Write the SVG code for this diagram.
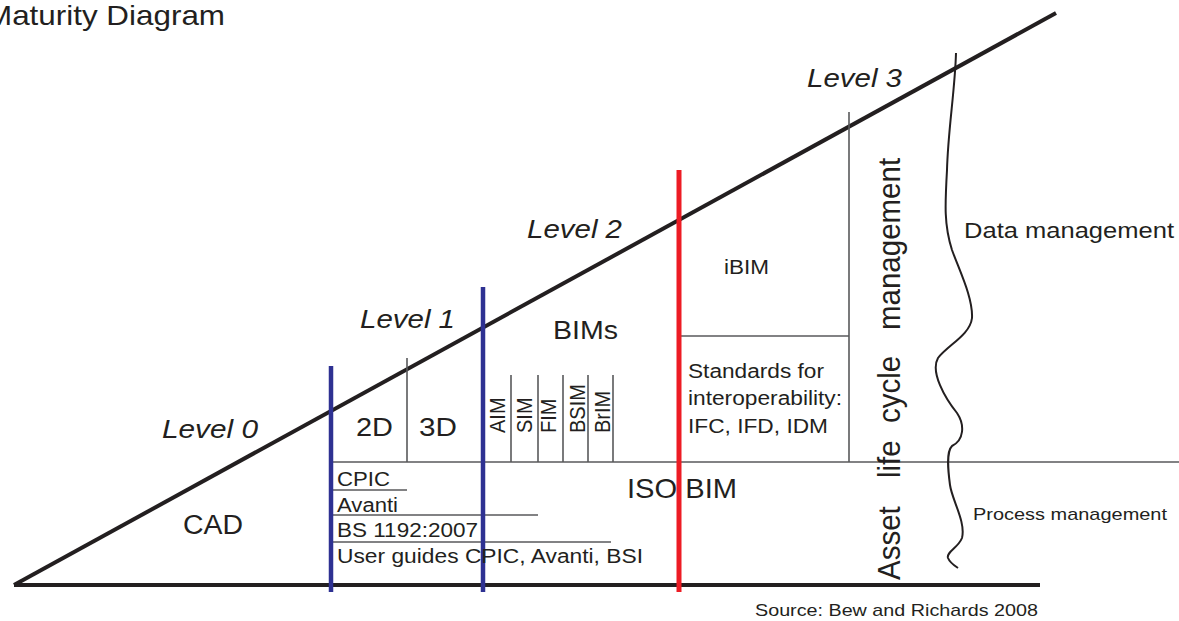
<svg xmlns="http://www.w3.org/2000/svg" width="1179" height="621" viewBox="0 0 1179 621">
<style>
text{font-family:"Liberation Sans",Arial,sans-serif;fill:#231f20}
.lvl{font-size:25px;font-style:italic}
.s20{font-size:20px}
.thick{stroke:#231f20;stroke-width:4;fill:none;stroke-linecap:butt}
.thin{stroke:#58595b;stroke-width:1.6;fill:none}
.blue{stroke:#2e3192;stroke-width:4.5;fill:none}
.red{stroke:#ed1c24;stroke-width:5;fill:none}
.wave{stroke:#231f20;stroke-width:2;fill:none}
</style>
<rect width="1179" height="621" fill="#ffffff"/>
<g id="title"><text x="-14" y="25" font-size="28" textLength="239" lengthAdjust="spacingAndGlyphs">Maturity Diagram</text></g>
<g id="connectors">
<line class="thick" x1="14" y1="585" x2="1056" y2="13"/>
<line class="thick" x1="14" y1="585" x2="1040" y2="585"/>
<line class="thin" x1="331" y1="462" x2="1179" y2="462"/>
<line class="thin" x1="407" y1="358" x2="407" y2="462"/>
<line class="thin" x1="511" y1="375" x2="511" y2="462"/>
<line class="thin" x1="538" y1="375" x2="538" y2="462"/>
<line class="thin" x1="563" y1="375" x2="563" y2="462"/>
<line class="thin" x1="588" y1="375" x2="588" y2="462"/>
<line class="thin" x1="613" y1="375" x2="613" y2="462"/>
<line class="thin" x1="333" y1="490" x2="407" y2="490"/>
<line class="thin" x1="333" y1="515" x2="538" y2="515"/>
<line class="thin" x1="333" y1="542" x2="611" y2="542"/>
<line class="thin" x1="681" y1="336" x2="849" y2="336"/>
<line class="thin" x1="849" y1="112" x2="849" y2="462"/>
<line class="blue" x1="331" y1="366" x2="331" y2="592"/>
<line class="blue" x1="483" y1="287" x2="483" y2="592"/>
<line class="red" x1="679" y1="170" x2="679" y2="592"/>
<path class="wave" d="M956,53 C955,90 948,130 947,170 C945,205 944,225 952,250 C960,272 973,298 972,318 C970,335 948,345 938,358 C930,372 945,398 957,413 C965,425 964,440 952,446 C946,452 948,470 950,485 C952,500 966,522 962,538 C958,548 946,552 948,558 C950,563 955,566 958,568"/>
</g>
<g id="level0"><text class="lvl" x="162" y="438" textLength="96" lengthAdjust="spacingAndGlyphs">Level 0</text></g>
<g id="level1"><text class="lvl" x="360" y="328" textLength="95" lengthAdjust="spacingAndGlyphs">Level 1</text></g>
<g id="level2"><text class="lvl" x="527" y="238" textLength="95" lengthAdjust="spacingAndGlyphs">Level 2</text></g>
<g id="level3"><text class="lvl" x="807" y="87" textLength="95" lengthAdjust="spacingAndGlyphs">Level 3</text></g>
<g id="cad"><text x="183" y="534" font-size="27" textLength="60" lengthAdjust="spacingAndGlyphs">CAD</text></g>
<g id="d2"><text x="356" y="436" font-size="26" textLength="37" lengthAdjust="spacingAndGlyphs">2D</text></g>
<g id="d3"><text x="419" y="436" font-size="26" textLength="38" lengthAdjust="spacingAndGlyphs">3D</text></g>
<g id="standards1">
<text class="s20" x="337" y="486" textLength="53" lengthAdjust="spacingAndGlyphs">CPIC</text>
<text class="s20" x="337" y="512" textLength="61" lengthAdjust="spacingAndGlyphs">Avanti</text>
<text class="s20" x="337" y="537" textLength="141" lengthAdjust="spacingAndGlyphs">BS 1192:2007</text>
<text class="s20" x="337" y="563" textLength="306" lengthAdjust="spacingAndGlyphs">User guides CPIC, Avanti, BSI</text>
</g>
<g id="bims"><text x="553" y="339" font-size="26" textLength="65" lengthAdjust="spacingAndGlyphs">BIMs</text></g>
<g id="bimtypes">
<text class="s20" transform="translate(505,433) scale(1.13,1) rotate(-90)">AIM</text>
<text class="s20" transform="translate(532,433) scale(1.13,1) rotate(-90)">SIM</text>
<text class="s20" transform="translate(556,433) scale(1.13,1) rotate(-90)">FIM</text>
<text class="s20" transform="translate(585,433) scale(1.13,1) rotate(-90)">BSIM</text>
<text class="s20" transform="translate(610,433) scale(1.13,1) rotate(-90)">BrIM</text>
</g>
<g id="isobim"><text x="627" y="498" font-size="28" textLength="110" lengthAdjust="spacingAndGlyphs">ISO BIM</text></g>
<g id="ibim"><text class="s20" x="724" y="274" textLength="45" lengthAdjust="spacingAndGlyphs">iBIM</text></g>
<g id="interop">
<text class="s20" x="688" y="378" textLength="136" lengthAdjust="spacingAndGlyphs">Standards for</text>
<text class="s20" x="688" y="405" textLength="154" lengthAdjust="spacingAndGlyphs">interoperability:</text>
<text class="s20" x="688" y="433" textLength="140" lengthAdjust="spacingAndGlyphs">IFC, IFD, IDM</text>
</g>
<g id="assetlcm"><text font-size="29.5" transform="translate(900,580) scale(1.08,1) rotate(-90)"><tspan x="0">Asset</tspan><tspan x="102">life</tspan><tspan x="157">cycle</tspan><tspan x="250">management</tspan></text></g>
<g id="datamgmt"><text x="964" y="238" font-size="22" textLength="210" lengthAdjust="spacingAndGlyphs">Data management</text></g>
<g id="processmgmt"><text x="973" y="520" font-size="17" textLength="194" lengthAdjust="spacingAndGlyphs">Process management</text></g>
<g id="source"><text x="755" y="616" font-size="17" textLength="283" lengthAdjust="spacingAndGlyphs">Source: Bew and Richards 2008</text></g>
</svg>
